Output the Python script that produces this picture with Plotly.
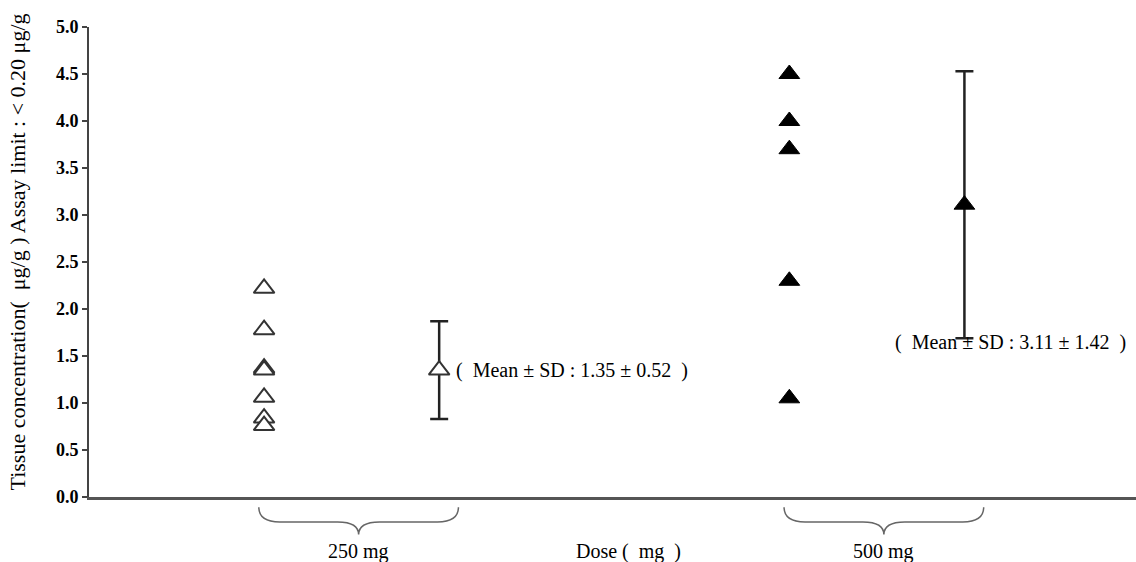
import plotly.graph_objects as go

# ---- data ----
dose_groups = ["250 mg", "500 mg"]
group_x = [1, 4]          # column positions of individual values
mean_x = [2, 5]           # column positions of mean ± SD
vals_250 = [2.22, 1.78, 1.37, 1.35, 1.06, 0.84, 0.76]
vals_500 = [4.50, 4.00, 3.70, 2.30, 1.05]
means = [1.35, 3.11]
sds = [0.52, 1.42]
mean_labels = ["(  Mean ± SD : 1.35 ± 0.52  )", "(  Mean ± SD : 3.11 ± 1.42  )"]
y_ticks = [0.0, 0.5, 1.0, 1.5, 2.0, 2.5, 3.0, 3.5, 4.0, 4.5, 5.0]

XMAX = 5.98
SERIF = "Liberation Serif, Times New Roman, serif"
DARK = "#222222"

fig = go.Figure()

open_marker = dict(symbol="triangle-up", size=18, color="white",
                   line=dict(color="#333333", width=2))
filled_marker = dict(symbol="triangle-up", size=18, color="black",
                     line=dict(color="black", width=1))

fig.add_trace(go.Scatter(x=[group_x[0]] * len(vals_250), y=vals_250, mode="markers",
                         marker=open_marker, showlegend=False, cliponaxis=False))
fig.add_trace(go.Scatter(x=[group_x[1]] * len(vals_500), y=vals_500, mode="markers",
                         marker=filled_marker, showlegend=False, cliponaxis=False))
fig.add_trace(go.Scatter(x=[mean_x[0]], y=[means[0]], mode="markers",
                         error_y=dict(type="data", array=[sds[0]], color=DARK,
                                      thickness=2.5, width=9),
                         marker=open_marker, showlegend=False, cliponaxis=False))
fig.add_trace(go.Scatter(x=[mean_x[1]], y=[means[1]], mode="markers",
                         error_y=dict(type="data", array=[sds[1]], color=DARK,
                                      thickness=2.5, width=9),
                         marker=filled_marker, showlegend=False, cliponaxis=False))

# mean labels
fig.add_annotation(x=mean_x[0] + 0.085, y=means[0], xref="x", yref="y",
                   text=mean_labels[0], showarrow=False, xanchor="left",
                   yanchor="middle", font=dict(family=SERIF, size=20, color="black"))
fig.add_annotation(x=mean_x[1] - 0.41, y=means[1] - sds[1] - 0.05, xref="x", yref="y",
                   text=mean_labels[1], showarrow=False, xanchor="left",
                   yanchor="middle", font=dict(family=SERIF, size=20, color="black"))

# curly braces under the axis + group labels
def brace(cx, hw):
    L = (cx - hw) / XMAX
    R = (cx + hw) / XMAX
    C = cx / XMAX
    d = 0.02
    top, mid, tip = -0.022, -0.053, -0.080
    return (f"M {L},{top} Q {L},{mid} {L + d},{mid} L {C - d},{mid} "
            f"Q {C},{mid} {C},{tip} Q {C},{mid} {C + d},{mid} "
            f"L {R - d},{mid} Q {R},{mid} {R},{top}")

for gx, mx, lab in zip(group_x, mean_x, dose_groups):
    cx = (gx + mx) / 2 + 0.04
    fig.add_shape(type="path", path=brace(cx, 0.57), xref="paper", yref="paper",
                  line=dict(color="#666666", width=1.5))
    fig.add_annotation(x=cx, y=-0.117, xref="x", yref="paper", text=lab,
                       showarrow=False, xanchor="center", yanchor="middle",
                       font=dict(family=SERIF, size=20, color="black"))

fig.add_annotation(x=3.08, y=-0.117, xref="x", yref="paper", text="Dose (  mg  )",
                   showarrow=False, xanchor="center", yanchor="middle",
                   font=dict(family=SERIF, size=20, color="black"))

# y-axis title
fig.add_annotation(x=-0.068, y=0.522, xref="paper", yref="paper",
                   text="Tissue concentration(  μg/g ) Assay limit : < 0.20 μg/g",
                   textangle=-90, showarrow=False, xanchor="center", yanchor="middle",
                   font=dict(family=SERIF, size=22, color="black"))

fig.update_xaxes(range=[0, XMAX], showline=True, linecolor="#555555", linewidth=3,
                 showticklabels=False, ticks="", showgrid=False, zeroline=False)
fig.update_yaxes(range=[0, 5], tickvals=y_ticks, ticktext=[f"<b>{v:.1f}</b>" for v in y_ticks],
                 showline=True, linecolor="#444444", linewidth=2,
                 ticks="outside", ticklen=5, tickwidth=2, tickcolor="#444444",
                 showgrid=False, zeroline=False,
                 tickfont=dict(family=SERIF, size=18, color="black"))

fig.update_layout(width=1136, height=562, margin=dict(l=89, r=0, t=27, b=65),
                  plot_bgcolor="white", paper_bgcolor="white")

fig.write_html("out.html")
